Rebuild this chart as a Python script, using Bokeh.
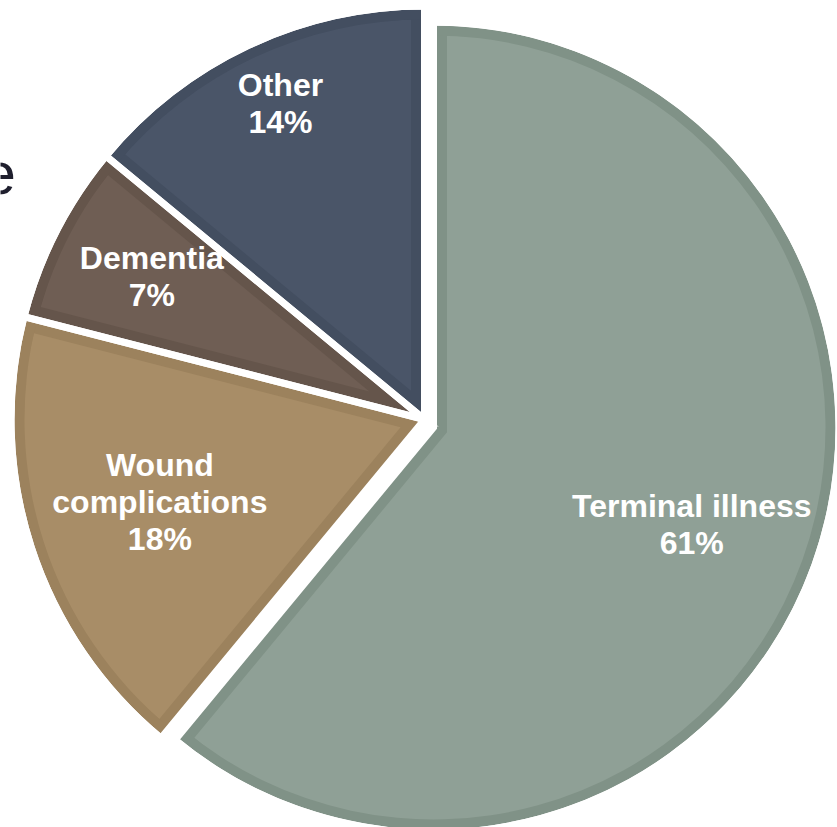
import math
from bokeh.plotting import figure
from bokeh.models import ColumnDataSource, Range1d
from bokeh.embed import file_html
from bokeh.resources import INLINE
from bokeh.core.properties import value

# ---- data ----
categories = ["Terminal illness", "Wound complications", "Dementia", "Other"]
percentages = [61, 18, 7, 14]
label_texts = ["Terminal illness\n61%", "Wound\ncomplications\n18%", "Dementia\n7%", "Other\n14%"]
title_fragment = "e"

# ---- style / layout ----
fill_colors = ["#8FA096", "#A88D67", "#6F5E54", "#4A5568"]
band_colors = ["#809287", "#9C825D", "#65554B", "#434E60"]
W, H = 837, 827
GAP = 7          # white gap between slices
BAND = 10        # darker inner border width
pie_cx, pie_cy = 424, H - 419
explode_dx = [9, 0, 0, 0]
explode_dy = [-8, 0, 0, 0]
vis_radius = [402, 410, 410, 410]
label_frac = [0.686, 0.676, 0.751, 0.847]
label_rot = math.radians(-0.7)

total = float(sum(percentages))
cx, cy, rg, rv, a0, a1 = [], [], [], [], [], []
ix, iy, ir = [], [], []
ring_in = []
lx, ly = [], []
cum = 0.0
for i, v in enumerate(percentages):
    a_end = math.pi / 2 - 2 * math.pi * cum / total
    a_start = a_end - 2 * math.pi * v / total
    cum += v
    c_x = pie_cx + explode_dx[i]
    c_y = pie_cy + explode_dy[i]
    R_vis = vis_radius[i]
    R_geom = R_vis + GAP / 2
    half = (a_end - a_start) / 2
    bis = (a_end + a_start) / 2
    inset = GAP / 2 + BAND
    s = inset / math.sin(half)
    R_in = R_vis - BAND
    r = -s * math.cos(half) + math.sqrt(R_in ** 2 - (s * math.sin(half)) ** 2)
    cx.append(c_x); cy.append(c_y); rg.append(R_geom); rv.append(R_vis)
    a0.append(a_start); a1.append(a_end)
    ix.append(c_x + s * math.cos(bis)); iy.append(c_y + s * math.sin(bis)); ir.append(r)
    ring_in.append(R_in)
    la = bis + label_rot
    lx.append(c_x + label_frac[i] * R_vis * math.cos(la))
    ly.append(c_y + label_frac[i] * R_vis * math.sin(la))

src = ColumnDataSource(dict(
    cx=cx, cy=cy, rg=rg, rv=rv, a0=a0, a1=a1, ix=ix, iy=iy, ir=ir,
    ring_in=ring_in, ring_out=[r + 1 for r in rv], white_out=[r + 40 for r in rv],
    fill=fill_colors, band=band_colors, lx=lx, ly=ly, label=label_texts, cat=categories,
))

p = figure(width=W, height=H, x_range=Range1d(0, W), y_range=Range1d(0, H),
           output_backend="svg", toolbar_location=None,
           x_axis_type=None, y_axis_type=None, min_border=0)
p.outline_line_color = None
p.grid.visible = False
p.background_fill_color = "white"
p.border_fill_color = "white"

# base slice (darker band colour)
p.wedge(x="cx", y="cy", radius="rg", start_angle="a0", end_angle="a1",
        fill_color="band", line_color=None, source=src)
# lighter inner fill (inset wedge)
p.wedge(x="ix", y="iy", radius="ir", start_angle="a0", end_angle="a1",
        fill_color="fill", line_color=None, source=src)
# band along the arc
p.annular_wedge(x="cx", y="cy", inner_radius="ring_in", outer_radius="ring_out",
                start_angle="a0", end_angle="a1", fill_color="band", line_color=None, source=src)
# clean outside of arc
p.annular_wedge(x="cx", y="cy", inner_radius="rv", outer_radius="white_out",
                start_angle="a0", end_angle="a1", fill_color="white", line_color=None, source=src)
# white separators
p.wedge(x="cx", y="cy", radius="rg", start_angle="a0", end_angle="a1",
        fill_color=None, line_color="white", line_width=GAP, line_join="miter", source=src)

p.text(x="lx", y="ly", text="label", source=src, text_align="center", text_baseline="middle",
       text_font=value("Liberation Sans"), text_font_style="bold", text_font_size="32px",
       text_color="white", text_line_height=1.03)

p.text(x=[-18], y=[H - 173], text=[title_fragment], text_align="left", text_baseline="alphabetic",
       text_font=value("Liberation Sans"), text_font_size="60px", text_color="#1F1F2E")

open("out.html", "w").write(file_html(p, INLINE))
